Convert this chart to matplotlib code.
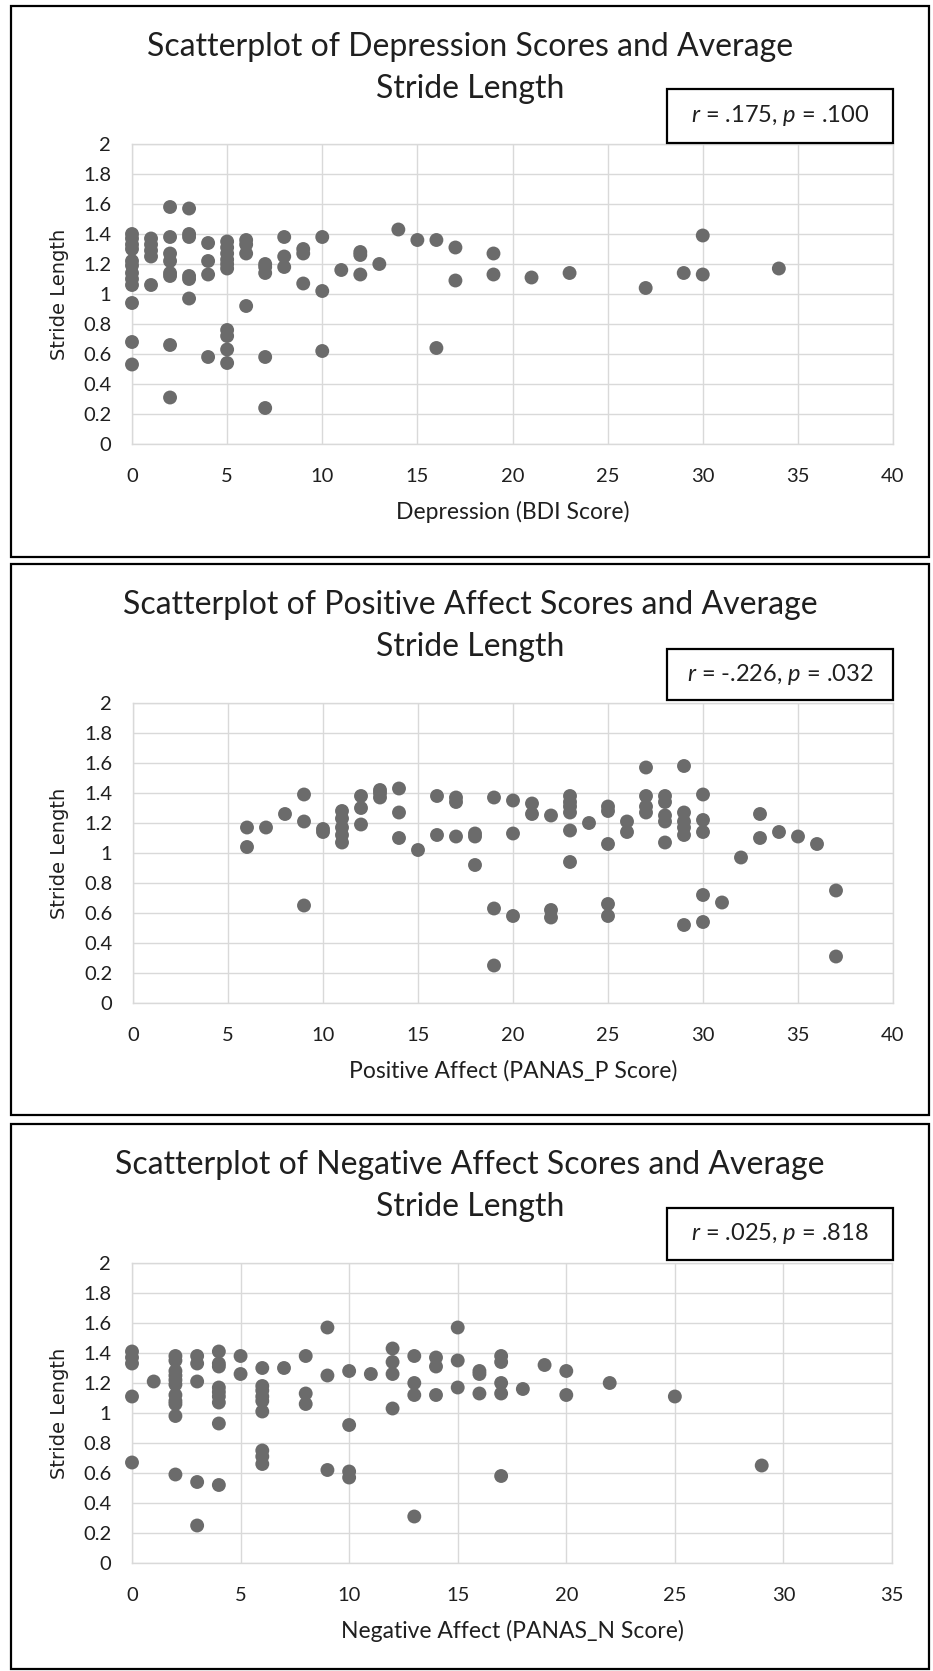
"""
Three Excel-style scatterplots of stride length against mood scores
(BDI depression, PANAS positive affect, PANAS negative affect),
stacked vertically, each in its own framed panel.
"""
import matplotlib
matplotlib.use('Agg')
import matplotlib.pyplot as plt
from matplotlib.patches import Rectangle

# ---- data -----------------------------------------------------------------
bdi_score = [0, 0, 0, 0, 0, 0, 0, 0, 0, 0, 0, 0,
             1, 1, 1, 1, 1,
             2, 2, 2, 2, 2, 2, 2, 2,
             3, 3, 3, 3, 3, 3,
             4, 4, 4, 4,
             5, 5, 5, 5, 5, 5, 5, 5, 5, 5,
             6, 6, 6, 6,
             7, 7, 7, 7, 7,
             8, 8, 8,
             9, 9, 9,
             10, 10, 10,
             11, 12, 12, 12, 13, 14, 15, 16, 16, 17, 17, 19, 19,
             21, 23, 27, 29, 30, 30, 34]
bdi_stride = [1.40, 1.37, 1.33, 1.30, 1.22, 1.19, 1.14, 1.10, 1.06, 0.94, 0.68, 0.53,
              1.37, 1.33, 1.29, 1.25, 1.06,
              1.58, 1.38, 1.27, 1.22, 1.14, 1.12, 0.66, 0.31,
              1.57, 1.40, 1.38, 1.12, 1.10, 0.97,
              1.34, 1.22, 1.13, 0.58,
              1.35, 1.31, 1.27, 1.23, 1.20, 1.17, 0.76, 0.72, 0.63, 0.54,
              1.36, 1.33, 1.27, 0.92,
              1.20, 1.18, 1.14, 0.58, 0.24,
              1.38, 1.25, 1.18,
              1.30, 1.27, 1.07,
              1.38, 1.02, 0.62,
              1.16, 1.28, 1.26, 1.13, 1.20, 1.43, 1.36, 1.36, 0.64, 1.31, 1.09, 1.27, 1.13,
              1.11, 1.14, 1.04, 1.14, 1.39, 1.13, 1.17]

pa_score = [6, 6, 7, 8, 9, 9, 9, 10, 10,
            11, 11, 11, 11, 11, 12, 12, 12, 13, 13, 13, 14, 14, 14, 15,
            16, 16, 17, 17, 17, 18, 18, 18, 19, 19, 19, 20, 20, 20,
            21, 21, 22, 22, 22, 23, 23, 23, 23, 23, 23, 24,
            25, 25, 25, 25, 25, 26, 26, 27, 27, 27, 27,
            28, 28, 28, 28, 28, 29, 29, 29, 29, 29, 29,
            30, 30, 30, 30, 30, 31, 32, 33, 33, 34, 35, 36, 37, 37]
pa_stride = [1.17, 1.04, 1.17, 1.26, 1.39, 1.21, 0.65, 1.16, 1.14,
             1.28, 1.23, 1.17, 1.12, 1.07, 1.38, 1.30, 1.19, 1.42, 1.40, 1.37, 1.43, 1.27, 1.10, 1.02,
             1.38, 1.12, 1.37, 1.34, 1.11, 1.13, 1.11, 0.92, 1.37, 0.63, 0.25, 1.35, 1.13, 0.58,
             1.33, 1.26, 1.25, 0.62, 0.57, 1.38, 1.34, 1.31, 1.27, 1.15, 0.94, 1.20,
             1.31, 1.28, 1.06, 0.66, 0.58, 1.21, 1.14, 1.57, 1.38, 1.31, 1.27,
             1.38, 1.34, 1.25, 1.21, 1.07, 1.58, 1.27, 1.21, 1.17, 1.12, 0.52,
             1.39, 1.22, 1.14, 0.72, 0.54, 0.67, 0.97, 1.26, 1.10, 1.14, 1.11, 1.06, 0.75, 0.31]

na_score = [0, 0, 0, 0, 0, 1,
            2, 2, 2, 2, 2, 2, 2, 2, 2, 2, 2,
            3, 3, 3, 3, 3, 4, 4, 4, 4, 4, 4, 4, 4, 4,
            5, 5, 6, 6, 6, 6, 6, 6, 6, 6, 6, 7,
            8, 8, 8, 9, 9, 9, 10, 10, 10, 10, 11,
            12, 12, 12, 12, 13, 13, 13, 13, 14, 14, 14,
            15, 15, 15, 16, 16, 16, 17, 17, 17, 17, 17,
            18, 19, 20, 20, 22, 25, 29]
na_stride = [1.41, 1.37, 1.33, 1.11, 0.67, 1.21,
             1.38, 1.35, 1.28, 1.25, 1.22, 1.19, 1.12, 1.08, 1.06, 0.98, 0.59,
             1.38, 1.33, 1.21, 0.54, 0.25, 1.41, 1.33, 1.31, 1.17, 1.14, 1.11, 1.07, 0.93, 0.52,
             1.38, 1.26, 1.30, 1.18, 1.15, 1.11, 1.08, 1.01, 0.75, 0.71, 0.66, 1.30,
             1.38, 1.13, 1.06, 1.57, 1.25, 0.62, 1.28, 0.92, 0.61, 0.57, 1.26,
             1.43, 1.34, 1.26, 1.03, 1.38, 1.20, 1.12, 0.31, 1.37, 1.31, 1.12,
             1.57, 1.35, 1.17, 1.28, 1.26, 1.13, 1.38, 1.34, 1.20, 1.13, 0.58,
             1.16, 1.32, 1.28, 1.12, 1.20, 1.11, 0.65]

y_ticks = [0, 0.2, 0.4, 0.6, 0.8, 1, 1.2, 1.4, 1.6, 1.8, 2]
y_tick_labels = ['0', '0.2', '0.4', '0.6', '0.8', '1', '1.2', '1.4', '1.6', '1.8', '2']
x_ticks_40 = [0, 5, 10, 15, 20, 25, 30, 35, 40]
x_ticks_35 = [0, 5, 10, 15, 20, 25, 30, 35]

titles = [('Scatterplot of Depression Scores and Average', 'Stride Length'),
          ('Scatterplot of Positive Affect Scores and Average', 'Stride Length'),
          ('Scatterplot of Negative Affect Scores and Average', 'Stride Length')]
x_labels = ['Depression (BDI Score)',
            'Positive Affect (PANAS_P Score)',
            'Negative Affect (PANAS_N Score)']
stats = [r'$r$ = .175, $p$ = .100',
         r'$r$ = -.226, $p$ = .032',
         r'$r$ = .025, $p$ = .818']

# ---- layout (pixels, measured from the top-left of the 933x1671 image) ----
W, H = 933, 1671
FONT = 'Lato'
DOT = '#6b6b6b'
GRID = '#d9d9d9'
TXT = '#1f1f1f'

# panel frame top/bottom, plot area left/right/top/bottom, stats box
panels = [
    dict(frame=(6, 557), plot=(132, 893, 144, 444), box=(667, 893, 89, 143)),
    dict(frame=(564, 1115), plot=(133, 893, 703, 1003), box=(667, 893, 649, 700)),
    dict(frame=(1124, 1669), plot=(132, 892, 1263, 1563), box=(667, 893, 1208, 1260)),
]


def fx(x: float) -> float:
    return x / W


def fy(y: float) -> float:
    return 1 - y / H


def main():
    plt.rcParams['font.family'] = [FONT, 'DejaVu Sans']
    plt.rcParams['mathtext.fontset'] = 'custom'
    plt.rcParams['mathtext.rm'] = FONT
    plt.rcParams['mathtext.it'] = FONT + ':italic'

    fig = plt.figure(figsize=(W / 100, H / 100), dpi=100)
    fig.patch.set_facecolor('white')

    series = [(bdi_score, bdi_stride, x_ticks_40),
              (pa_score, pa_stride, x_ticks_40),
              (na_score, na_stride, x_ticks_35)]

    for i, (xs, ys, xt) in enumerate(series):
        p = panels[i]
        f_top, f_bot = p['frame']
        left, right, top, bottom = p['plot']

        # Black frame around each panel
        fig.patches.append(Rectangle((fx(11), fy(f_bot)), fx(929) - fx(11), (f_bot - f_top) / H,
                                     transform=fig.transFigure, fill=False,
                                     edgecolor='black', linewidth=1.6))

        ax = fig.add_axes([fx(left), fy(bottom), fx(right) - fx(left), (bottom - top) / H])
        ax.scatter(xs, ys, s=100, color=DOT, edgecolors='none', zorder=3, clip_on=False)

        ax.set_xlim(xt[0], xt[-1])
        ax.set_ylim(0, 2)
        ax.set_xticks(xt)
        ax.set_xticklabels([str(t) for t in xt])
        ax.set_yticks(y_ticks)
        ax.set_yticklabels(y_tick_labels)
        ax.grid(True, color=GRID, linewidth=1.0, zorder=0)
        ax.set_axisbelow(True)
        for s in ax.spines.values():
            s.set_color(GRID)
            s.set_linewidth(1.0)
        ax.tick_params(length=0, labelsize=14.5, colors=TXT)
        ax.tick_params(axis='x', pad=17)
        ax.tick_params(axis='y', pad=15)

        # Axis titles
        fig.text(fx((left + right) / 2), fy(bottom + 68), x_labels[i], ha='center',
                 va='center', fontsize=16.5, color=TXT)
        fig.text(fx(60), fy((top + bottom) / 2), 'Stride Length', ha='center', va='center',
                 rotation=90, fontsize=14, color=TXT, family='DejaVu Sans')

        # Two-line chart title
        fig.text(fx(470), fy(f_top + 41), titles[i][0], ha='center', va='center',
                 fontsize=23, color=TXT)
        fig.text(fx(470), fy(f_top + 83), titles[i][1], ha='center', va='center',
                 fontsize=23, color=TXT)

        # Stats box
        bl, br, bt, bb = p['box']
        fig.patches.append(Rectangle((fx(bl), fy(bb)), fx(br) - fx(bl), (bb - bt) / H,
                                     transform=fig.transFigure, facecolor='white',
                                     edgecolor='black', linewidth=1.6, zorder=5))
        fig.text(fx((bl + br) / 2), fy((bt + bb) / 2), stats[i], ha='center', va='center',
                 fontsize=17, color=TXT, zorder=6)

    fig.savefig('out.png', dpi=100)


if __name__ == '__main__':
    main()
